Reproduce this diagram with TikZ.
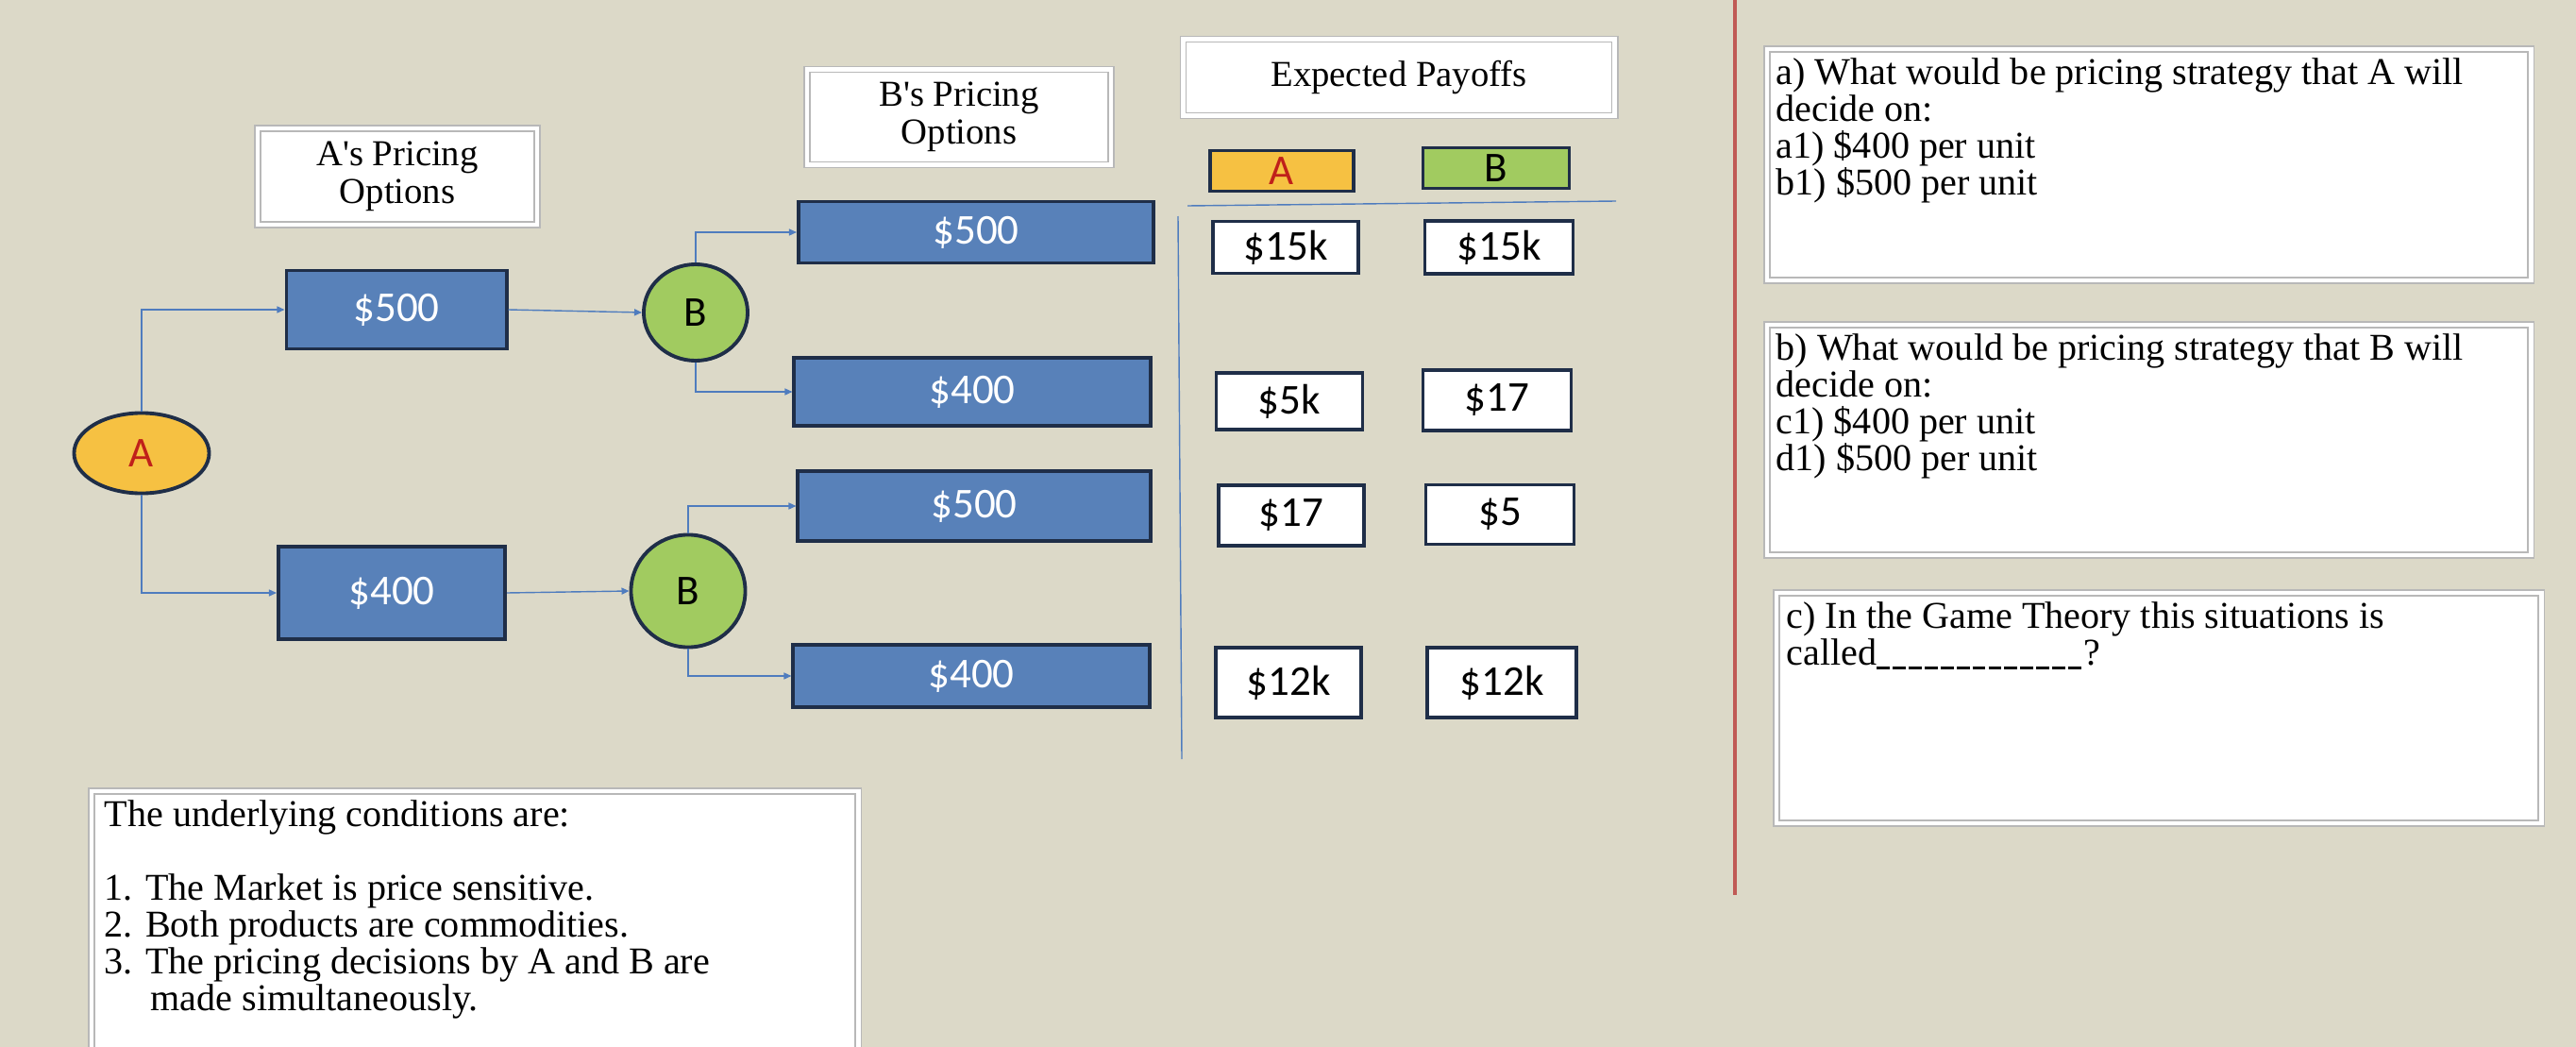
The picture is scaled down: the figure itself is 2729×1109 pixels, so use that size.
\documentclass[tikz,border=0pt]{standalone}
\usepackage{fontspec}
\setmainfont{Liberation Serif}
\newfontfamily\calib{Carlito}
\usetikzlibrary{arrows.meta,shapes.geometric}
\definecolor{paper}{RGB}{220,217,200}
\definecolor{boxblue}{RGB}{88,129,185}
\definecolor{navy}{RGB}{31,46,72}
\definecolor{gold}{RGB}{246,193,66}
\definecolor{leaf}{RGB}{161,203,96}
\definecolor{linkblue}{RGB}{79,124,190}
\definecolor{redA}{RGB}{192,32,26}
\definecolor{redline}{RGB}{192,90,85}
\newcommand\hdfont{\fontsize{11}{11.4}\selectfont}
\newcommand\qfont{\fontsize{11.4}{11.1}\selectfont}
\newcommand\numfont{\calib\fontsize{12.8}{14}\selectfont}
\newcommand\blankdash{\rule[-1.3pt]{3.9pt}{0.8pt}\hspace{0.9pt}}
\tikzset{
  price/.style={draw=navy,line width=1.1pt,fill=boxblue,text=white,font=\numfont,inner sep=0pt},
  payoff/.style={draw=navy,line width=1.1pt,fill=white,font=\numfont,inner sep=0pt},
  player/.style={ellipse,draw=navy,line width=1.1pt,font=\numfont,inner sep=0pt},
  framed/.style={fill=white,draw=black!28,double=white,double distance=1.3pt,line width=0.45pt,inner sep=0pt},
  qtext/.style={font=\qfont,align=left,inner sep=0pt,anchor=north west},
  link/.style={draw=linkblue,line width=0.4pt,-{Triangle[length=0.08cm,width=0.07cm]}}
}
\begin{document}
\begin{tikzpicture}[x=0.01cm,y=-0.01cm]
\useasboundingbox (0,0) rectangle (2729,1109);
\fill[paper] (0,0) rectangle (2729,1109);
\draw[redline,line width=1.1pt] (1838,0) -- (1838,948);

\node[framed,minimum width=2.96cm,minimum height=1.02cm,align=center,font=\hdfont] (aopt) at (421,187) {A\textquotesingle s Pricing\\Options};
\node[framed,minimum width=3.22cm,minimum height=1.01cm,align=center,font=\hdfont] (bopt) at (1016,124) {B\textquotesingle s Pricing\\Options};
\node[framed,minimum width=4.57cm,minimum height=0.81cm,font=\hdfont] (payhd) at (1482,82) {Expected Payoffs};

\node[player,fill=gold,text=redA,minimum width=1.43cm,minimum height=0.85cm] (A) at (150,480) {A};
\node[price,minimum width=2.33cm,minimum height=0.83cm] (a500) at (420,328) {\$500};
\node[price,minimum width=2.40cm,minimum height=0.98cm] (a400) at (415,628) {\$400};
\node[player,fill=leaf,minimum width=1.10cm,minimum height=1.02cm] (B1) at (737,331) {B};
\node[player,fill=leaf,minimum width=1.21cm,minimum height=1.19cm] (B2) at (729,626) {B};

\node[price,minimum width=3.76cm,minimum height=0.65cm] (b1) at (1034,246) {\$500};
\node[price,minimum width=3.77cm,minimum height=0.72cm] (b2) at (1030,415) {\$400};
\node[price,minimum width=3.73cm,minimum height=0.74cm] (b3) at (1032,536) {\$500};
\node[price,minimum width=3.77cm,minimum height=0.66cm] (b4) at (1029,716) {\$400};

\draw[link] (A.north) |- (a500.west);
\draw[link] (A.south) |- (a400.west);
\draw[link] (a500.east) -- (B1.west);
\draw[link] (a400.east) -- (B2.west);
\draw[link] (B1.north) |- (b1.west);
\draw[link] (B1.south) |- (b2.west);
\draw[link] (B2.north) |- (b3.west);
\draw[link] (B2.south) |- (b4.west);

\node[payoff,fill=gold,text=redA,minimum width=1.52cm,minimum height=0.43cm] (legA) at (1358,181) {A};
\node[payoff,fill=leaf,minimum width=1.55cm,minimum height=0.43cm] (legB) at (1585,178) {B};
\draw[linkblue,line width=0.4pt] (1258,218) -- (1712,213);
\draw[linkblue,line width=0.4pt] (1248,229) -- (1252,804);

\node[payoff,minimum width=1.54cm,minimum height=0.55cm] (p11) at (1362,262) {\$15k};
\node[payoff,minimum width=1.57cm,minimum height=0.56cm] (p12) at (1588,262) {\$15k};
\node[payoff,minimum width=1.55cm,minimum height=0.60cm] (p21) at (1366,425) {\$5k};
\node[payoff,minimum width=1.57cm,minimum height=0.64cm] (p22) at (1586,424) {\$17};
\node[payoff,minimum width=1.54cm,minimum height=0.64cm] (p31) at (1368,546) {\$17};
\node[payoff,minimum width=1.57cm,minimum height=0.63cm] (p32) at (1589,545) {\$5};
\node[payoff,minimum width=1.54cm,minimum height=0.74cm] (p41) at (1365,723) {\$12k};
\node[payoff,minimum width=1.58cm,minimum height=0.74cm] (p42) at (1591,723) {\$12k};

\node[framed,anchor=north west,minimum width=8.12cm,minimum height=2.80cm] (cond) at (96,837) {};
\node[qtext] (cond text) at ([shift={(14,10)}]cond.north west) {The underlying conditions are:\\[11.1pt]1. The Market is price sensitive.\\2. Both products are commodities.\\3. The pricing decisions by A and B are\\\hspace*{13.9pt}made simultaneously.};

\node[framed,anchor=north west,minimum width=8.09cm,minimum height=2.45cm] (qa) at (1871,51) {};
\node[qtext] (qa text) at ([shift={(10,10)}]qa.north west) {a) What would be pricing strategy that A will\\decide on:\\a1) \$400 per unit\\b1) \$500 per unit};
\node[framed,anchor=north west,minimum width=8.09cm,minimum height=2.44cm] (qb) at (1871,343) {};
\node[qtext] (qb text) at ([shift={(10,10)}]qb.north west) {b) What would be pricing strategy that B will\\decide on:\\c1) \$400 per unit\\d1) \$500 per unit};
\node[framed,anchor=north west,minimum width=8.10cm,minimum height=2.44cm] (qc) at (1881,627) {};
\node[qtext] (qc text) at ([shift={(11,10)}]qc.north west) {c) In the Game Theory this situations is\\called\blankdash\blankdash\blankdash\blankdash\blankdash\blankdash\blankdash\blankdash\blankdash\blankdash\blankdash\blankdash\blankdash?};
\end{tikzpicture}
\end{document}
